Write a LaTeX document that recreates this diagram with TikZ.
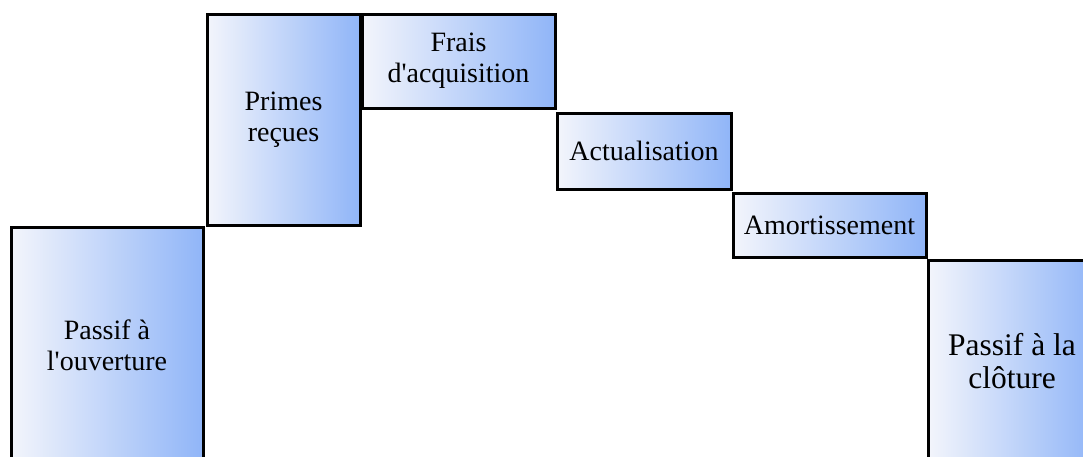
\documentclass[tikz,border=0pt]{standalone}
\usepackage{fontspec}
\setmainfont{Liberation Serif}
\definecolor{paleblue}{RGB}{243,245,251}
\definecolor{deepblue}{RGB}{144,181,248}
\newcommand{\sq}{\textquotesingle}
\tikzset{
  stepbox/.style={draw=black, line width=3pt, left color=paleblue, right color=deepblue,
    shading angle=90, inner sep=0pt, align=center, text=black,
    font=\fontsize{28}{31}\selectfont},
}
\begin{document}
\begin{tikzpicture}[x=1pt, y=-1pt]
  \useasboundingbox (0,0) rectangle (1083,456);
  \clip (0,0) rectangle (1083,456);
  \node[stepbox, minimum width=192pt, minimum height=236pt] (open) at (107,345) {Passif à\\l\sq ouverture};
  \node[stepbox, minimum width=153pt, minimum height=211pt] (prem) at (283.5,120) {Primes\\reçues};
  \node[stepbox, minimum width=193pt, minimum height=94pt] (frais) at (458.5,61) {Frais\\d\sq acquisition};
  \node[stepbox, minimum width=174pt, minimum height=76pt] (actu) at (644,151) {Actualisation};
  \node[stepbox, minimum width=193pt, minimum height=64pt] (amort) at (829.5,225) {Amortissement};
  \node[stepbox, minimum width=168pt, minimum height=202pt, font=\fontsize{31.5}{33}\selectfont] (close) at (1012,361) {Passif à la\\clôture};
\end{tikzpicture}
\end{document}
